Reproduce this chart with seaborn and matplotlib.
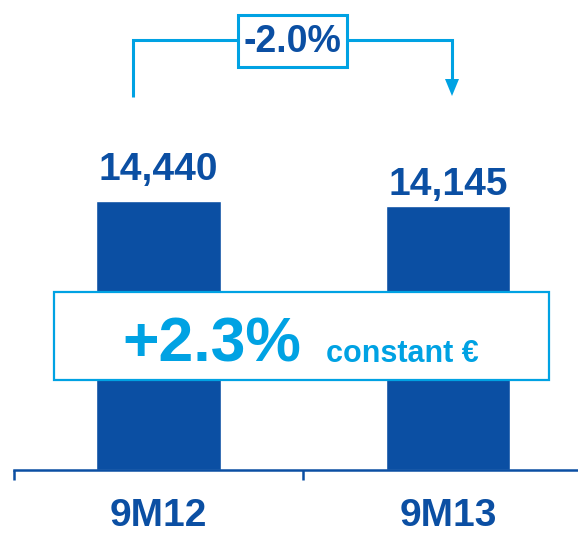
import matplotlib
matplotlib.use("Agg")
import matplotlib.pyplot as plt
from matplotlib.patches import Rectangle, Polygon
import seaborn as sns
import pandas as pd

# Revenue for the first nine months, in millions of euros
periods = ["9M12", "9M13"]
revenue = [14440, 14145]
constant_fx_growth = 2.3  # organic growth at constant exchange rates, %

DARK = "#0b4fa3"
LIGHT = "#00a2e3"
FONT = "Liberation Sans"

sns.set_theme(style="white")
plt.rcParams["font.family"] = [FONT, "DejaVu Sans"]

W, H = 578, 533
fig = plt.figure(figsize=(W / 100, H / 100), dpi=100)
fig.patch.set_facecolor("white")

# main bar axes: baseline 63 px above the bottom edge
ax = fig.add_axes([14 / W, 63 / H, (W - 14) / W, (H - 63) / H])
df = pd.DataFrame({"period": periods, "revenue": revenue})
sns.barplot(data=df, x="period", y="revenue", color=DARK, saturation=1,
            width=0.43, ax=ax)
ax.set_xlim(-0.5, 1.45)
ax.set_ylim(0, revenue[0] * 470 / 269)
ax.set_xlabel("")
ax.set_ylabel("")
ax.set_yticks([])
for side in ("top", "left", "right"):
    ax.spines[side].set_visible(False)
ax.spines["bottom"].set_color(DARK)
ax.spines["bottom"].set_linewidth(1.8)
ax.set_facecolor("none")

ax.set_xticks([-0.5, 0.5], minor=True)
ax.tick_params(axis="x", which="minor", length=7, width=1.8, color=DARK,
               direction="out", bottom=True)
ax.tick_params(axis="x", which="major", length=0, pad=20)
for lab in ax.get_xticklabels():
    lab.set_fontsize(28)
    lab.set_fontweight("bold")
    lab.set_color(DARK)

# value labels above each bar
label_gap = [9, 2.5]  # points
for bar, v, gap in zip(ax.containers[0], revenue, label_gap):
    ax.annotate(f"{v:,}", xy=(bar.get_x() + bar.get_width() / 2, v),
                xytext=(0, gap), textcoords="offset points",
                ha="center", va="bottom", fontsize=28, fontweight="bold",
                color=DARK)

# overlay in pixel units for the growth annotations
ov = fig.add_axes([0, 0, 1, 1])
ov.set_xlim(0, W)
ov.set_ylim(H, 0)
ov.axis("off")

change = (revenue[1] - revenue[0]) / revenue[0] * 100
lw = 2.2
ov.plot([133, 133, 238], [97, 40, 40], color=LIGHT, lw=lw,
        solid_joinstyle="miter", solid_capstyle="butt")
ov.plot([346, 452, 452], [40, 40, 80], color=LIGHT, lw=lw,
        solid_joinstyle="miter", solid_capstyle="butt")
ov.add_patch(Polygon([(445, 79), (459, 79), (452, 96)], closed=True,
                     facecolor=LIGHT, edgecolor="none"))
ov.add_patch(Rectangle((238, 15), 109, 52, facecolor="white",
                       edgecolor=LIGHT, lw=lw))
ov.text(292.5, 42, f"{change:.1f}%", ha="center", va="center",
        fontsize=27, fontweight="bold", color=DARK)

ov.add_patch(Rectangle((54, 292), 495, 88, facecolor="white",
                       edgecolor=LIGHT, lw=1.6))
ov.text(122, 362, f"+{constant_fx_growth:.1f}%", ha="left", va="baseline",
        fontsize=45, fontweight="bold", color=LIGHT)
ov.text(326, 362, "constant €", ha="left", va="baseline",
        fontsize=22, fontweight="bold", color=LIGHT)

fig.savefig("out.png", dpi=100, facecolor="white")
